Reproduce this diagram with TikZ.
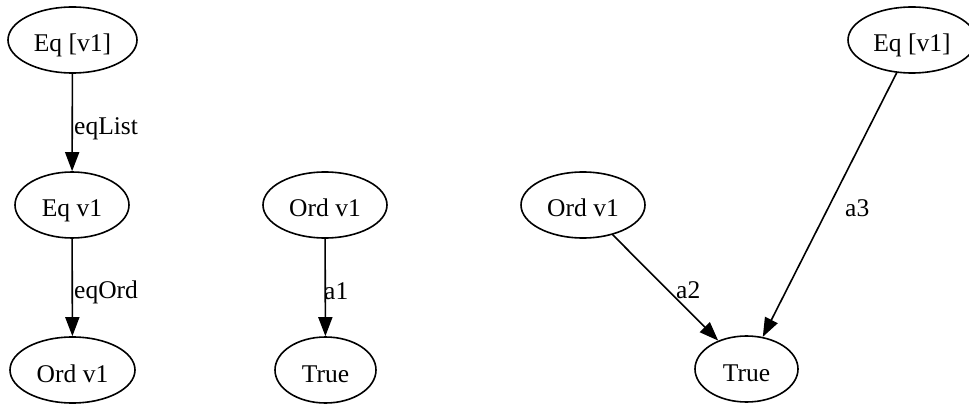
\documentclass[tikz,border=0pt]{standalone}
\usepackage{fontspec}
\setmainfont{Liberation Serif}
\usetikzlibrary{shapes.geometric,arrows.meta}
\begin{document}
\begin{tikzpicture}[x=1pt,y=-1pt,
  every node/.style={font=\fontsize{25.5}{30}\selectfont},
  vert/.style={ellipse,draw,line width=1.6pt,minimum height=66pt,inner sep=0pt,
    text height=24pt,text depth=0pt},
  edge/.style={line width=1.6pt,-{Triangle[length=19pt,width=14pt]}},
  lbl/.style={anchor=base west,inner sep=0pt}]
  \useasboundingbox (0,0) rectangle (969,406);

  % first component: Eq [v1] -> Eq v1 -> Ord v1
  \node[vert,minimum width=129pt] (L1) at (72.5,40) {Eq [v1]};
  \node[vert,minimum width=114pt] (L2) at (72,205) {Eq v1};
  \node[vert,minimum width=125pt] (L3) at (72.5,370) {Ord v1};

  % second component: Ord v1 -> True
  \node[vert,minimum width=124pt] (M1) at (325,205) {Ord v1};
  \node[vert,minimum width=101pt] (M2) at (325.5,370) {True};

  % third component: Ord v1 and Eq [v1] both -> True
  \node[vert,minimum width=124pt] (R1) at (583,205) {Ord v1};
  \node[vert,minimum width=103pt] (R2) at (746.5,369) {True};
  \node[vert,minimum width=128pt] (R3) at (912,40) {Eq [v1]};

  \draw[edge] (L1) -- (L2);
  \draw[edge] (L2) -- (L3);
  \draw[edge] (M1) -- (M2);
  \draw[edge] (R1) -- (R2);
  \draw[edge] (R3.-115) -- (R2);

  \node[lbl] (lEqList) at (74,135) {eqList};
  \node[lbl] (lEqOrd) at (74,298) {eqOrd};
  \node[lbl] (la1) at (324,299) {a1};
  \node[lbl] (la2) at (676,298) {a2};
  \node[lbl] (la3) at (845,217) {a3};
\end{tikzpicture}
\end{document}
